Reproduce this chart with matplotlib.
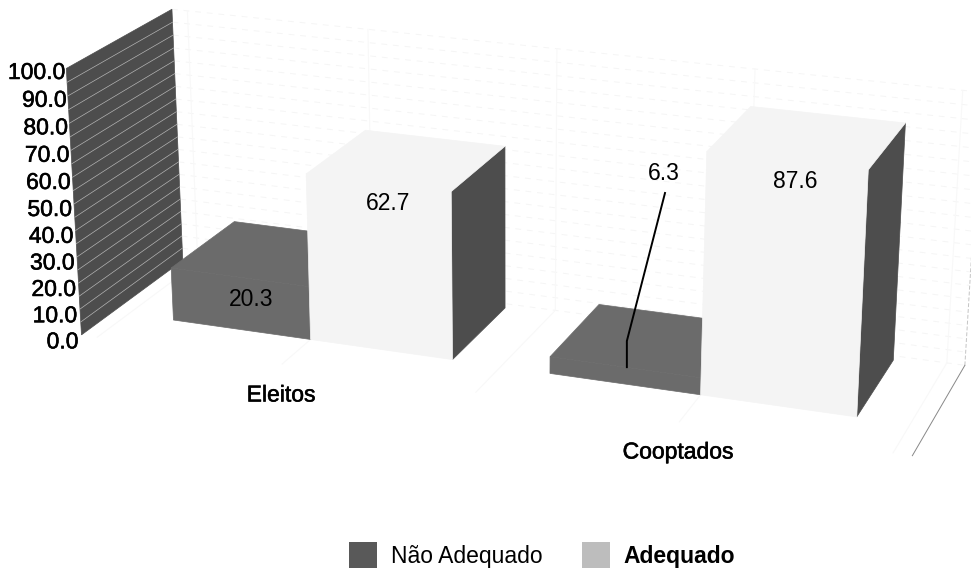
import matplotlib
matplotlib.use("Agg")
import matplotlib.pyplot as plt
import matplotlib.patheffects as pe
import numpy as np
from matplotlib.patches import Polygon, Rectangle

plt.rcParams['font.family'] = ['Liberation Sans', 'DejaVu Sans']

categories = ['Eleitos', 'Cooptados']
series_names = ['Não Adequado', 'Adequado']
nao_adequado = [20.3, 6.3]
adequado = [62.7, 87.6]
y_ticks = [0, 10, 20, 30, 40, 50, 60, 70, 80, 90, 100]

# bar slots on the horizontal scale: one unit per bar, a gap between groups
BAR_W = 1.0
GROUP_STEP = 2.667
X_MIN, X_MAX = -0.45, 5.117
Z_FRONT, Z_BACK = 0.3, 0.95
FONT_SIZE = 16.5

# (x, value, depth) -> pixel anchors that define the camera of the 3D scene
box_3d = [(X_MIN, 0, 0), (X_MIN, 100, 0), (X_MIN, 0, 1), (X_MIN, 100, 1), (X_MAX, 0, 1), (X_MAX, 0, 0)]
box_px = [(82, 335), (67, 67), (181, 258), (170, 12), (963, 367), (912, 457)]
bars_3d = [
    (0, 0, .3), (1, 0, .3), (2, 0, .3), (2.667, 0, .3), (3.667, 0, .3), (4.667, 0, .3),
    (1, 62.7, .3), (2, 62.7, .3), (0, 20.3, .3), (3.667, 87.6, .3), (4.667, 87.6, .3),
    (2.667, 6.3, .3), (0, 20.3, .95), (1, 62.7, .95), (2, 62.7, .95),
    (3.667, 87.6, .95), (4.667, 87.6, .95), (4.667, 0, .95), (2.667, 6.3, .95),
]
bars_px = [
    (173, 321), (310, 340), (452, 360), (550, 373), (701, 395), (857, 416),
    (306, 175), (450, 192), (171, 268), (706, 151), (868, 168),
    (550, 357), (237, 222), (370, 130), (505, 147),
    (750, 105), (907, 122), (895, 358), (602, 304),
]


def fit_camera(points, pixels):
    """Least squares fit of a 3x4 projection matrix."""
    rows = []
    for (x, v, z), (u, w) in zip(points, pixels):
        p = [x, v / 100, z, 1]
        rows.append(p + [0, 0, 0, 0] + [-u / 500 * c for c in p])
        rows.append([0, 0, 0, 0] + p + [-w / 500 * c for c in p])
    _, _, vt = np.linalg.svd(np.array(rows, dtype=float))
    return vt[-1].reshape(3, 4)


# the box corners count double so the wall stays put
CAMERA = fit_camera(box_3d * 2 + bars_3d, box_px * 2 + bars_px)


def project(x, v, z):
    h = CAMERA @ np.array([x, v / 100, z, 1.0])
    return h[0] / h[2] * 500, h[1] / h[2] * 500


def face(ax, corners, color, zorder):
    ax.add_patch(Polygon([project(*c) for c in corners], closed=True, facecolor=color,
                         edgecolor=color, linewidth=0.5, zorder=zorder))


def draw_bar(ax, x0, value, front_color, side_color, zorder):
    x1 = x0 + BAR_W
    # side first, then top, then the front face
    face(ax, [(x1, 0, Z_FRONT), (x1, value, Z_FRONT), (x1, value, Z_BACK), (x1, 0, Z_BACK)], side_color, zorder)
    face(ax, [(x0, value, Z_FRONT), (x1, value, Z_FRONT), (x1, value, Z_BACK), (x0, value, Z_BACK)],
         front_color, zorder)
    face(ax, [(x0, 0, Z_FRONT), (x1, 0, Z_FRONT), (x1, value, Z_FRONT), (x0, value, Z_FRONT)], front_color, zorder)


def line3d(ax, p0, p1, **kwargs):
    a, b = project(*p0), project(*p1)
    ax.plot([a[0], b[0]], [a[1], b[1]], **kwargs)


fig = plt.figure(figsize=(9.71, 5.68), dpi=100)
ax = fig.add_axes([0, 0, 1, 1])
ax.set_xlim(0, 971)
ax.set_ylim(568, 0)
ax.axis('off')

# back wall and floor grid, very faint
for v in np.arange(0, 101, 5):
    line3d(ax, (X_MIN, v, 1), (X_MAX, v, 1), color='#f5f5f5', lw=0.7, ls=(0, (6, 6)), zorder=1)
for xg in [-0.333, 1.0, 2.333, 3.667, 5.0]:
    line3d(ax, (xg, 0, 1), (xg, 100, 1), color='#f8f8f8', lw=0.8, zorder=1)
    line3d(ax, (xg, 0, 0), (xg, 0, 1), color='#f8f8f8', lw=0.8, zorder=1)

# left wall with its gridlines
face(ax, [(X_MIN, 0, 0), (X_MIN, 100, 0), (X_MIN, 100, 1), (X_MIN, 0, 1)], '#4d4d4d', 2)
for v in np.arange(5, 100, 5):
    line3d(ax, (X_MIN, v, 0), (X_MIN, v, 1), color='#b4b4b4', lw=0.5, zorder=3)

# right wall edge and floor edge
line3d(ax, (X_MAX, 0, 1), (X_MAX, 80, 1), color='#c4c4c4', lw=0.7, ls=(0, (4, 2)), zorder=1)
line3d(ax, (X_MAX, 0, 0), (X_MAX, 0, 1), color='#888888', lw=0.7, zorder=1)

for i in range(len(categories)):
    x0 = i * GROUP_STEP
    draw_bar(ax, x0, nao_adequado[i], '#6b6b6b', '#4d4d4d', 4 + 2 * i)
    draw_bar(ax, x0 + BAR_W, adequado[i], '#f4f4f4', '#4d4d4d', 5 + 2 * i)

# y tick labels follow the slanted front edge of the wall
for v in y_ticks:
    px, py = project(X_MIN, v, 0)
    ax.text(px - 3 + 2 * v / 100, py + 7 - 3 * v / 100, '%.1f' % v, ha='right', va='center',
            fontsize=FONT_SIZE, color='black',
            path_effects=[pe.withStroke(linewidth=0.4, foreground='black')], zorder=10)

# value labels, placed by hand beside their bars
ax.text(251, 300, '%.1f' % nao_adequado[0], ha='center', va='center', fontsize=FONT_SIZE, zorder=10)
ax.text(388, 203, '%.1f' % adequado[0], ha='center', va='center', fontsize=FONT_SIZE, zorder=10)
ax.text(664, 174, '%.1f' % nao_adequado[1], ha='center', va='center', fontsize=FONT_SIZE, zorder=10)
ax.text(795, 181, '%.1f' % adequado[1], ha='center', va='center', fontsize=FONT_SIZE, zorder=10)

# leader line for the small bar
lx, ly = project(GROUP_STEP + BAR_W / 2, nao_adequado[1], Z_FRONT)
ax.plot([665, lx + 2, lx + 2], [193, 341, ly], color='black', lw=1.4, zorder=10)

# category labels
for name, (cx, cy) in zip(categories, [(281, 395), (678, 452)]):
    ax.text(cx, cy, name, ha='center', va='center', fontsize=FONT_SIZE,
            path_effects=[pe.withStroke(linewidth=0.4, foreground='black')], zorder=10)

# legend
ax.add_patch(Rectangle((349, 542), 28, 26, facecolor='#595959', edgecolor='none', clip_on=False))
ax.add_patch(Rectangle((582, 542), 28, 26, facecolor='#bdbdbd', edgecolor='none', clip_on=False))
ax.text(391, 557, series_names[0], ha='left', va='center', fontsize=FONT_SIZE)
ax.text(623, 557, series_names[1], ha='left', va='center', fontsize=FONT_SIZE, fontweight='bold')

fig.savefig('out.png', dpi=100)
